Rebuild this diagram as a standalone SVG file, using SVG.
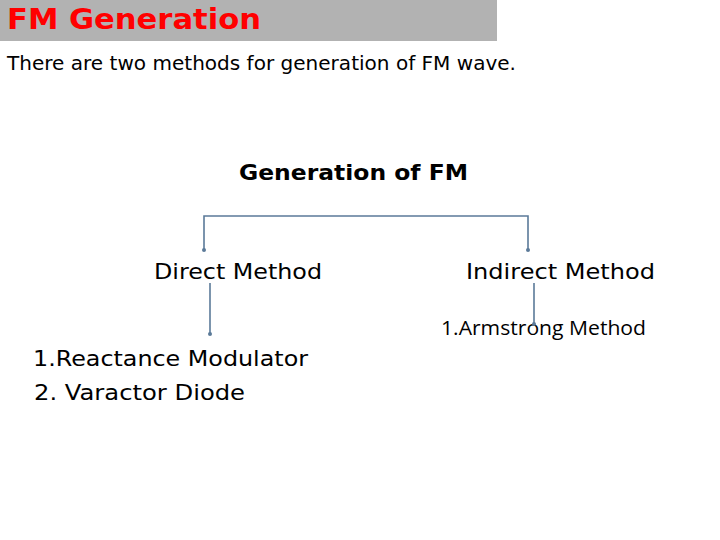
<svg xmlns="http://www.w3.org/2000/svg" width="720" height="540" viewBox="0 0 720 540">
<style>
.v{font-family:"DejaVu Sans","Verdana",sans-serif;fill:#000}
.c{font-family:"Open Sans","Noto Sans","Liberation Sans",sans-serif;fill:#000}
.ln{stroke:#5b7a99;stroke-width:1.6;fill:none}
</style>
<defs>
<marker id="dot" viewBox="0 0 6 6" refX="3" refY="3" markerWidth="4" markerHeight="4" markerUnits="userSpaceOnUse" orient="auto">
<circle cx="3" cy="3" r="3" fill="#5b7a99"/>
</marker>
</defs>
<rect width="720" height="540" fill="#fff"/>
<g id="header">
<rect x="0" y="0" width="497" height="41" fill="#b2b2b2"/>
<text x="7" y="29" font-family="'DejaVu Sans','Liberation Sans',sans-serif" font-weight="900" font-size="28" fill="#ff0000" textLength="254" lengthAdjust="spacingAndGlyphs">FM Generation</text>
</g>
<text class="v" x="7" y="70" font-size="19" textLength="509" lengthAdjust="spacingAndGlyphs">There are two methods for generation of FM wave.</text>
<g id="root"><text class="v" x="239" y="180" font-size="21" font-weight="bold" textLength="229" lengthAdjust="spacingAndGlyphs">Generation of FM</text></g>
<g id="direct"><text class="v" x="154" y="279" font-size="21" textLength="168" lengthAdjust="spacingAndGlyphs">Direct Method</text></g>
<g id="indirect"><text class="v" x="466" y="279" font-size="21" textLength="189" lengthAdjust="spacingAndGlyphs">Indirect Method</text></g>
<g id="directList">
<text class="v" x="33" y="366" font-size="21" textLength="275" lengthAdjust="spacingAndGlyphs">1.Reactance Modulator</text>
<text class="v" x="34" y="400" font-size="21" textLength="211" lengthAdjust="spacingAndGlyphs">2. Varactor Diode</text>
</g>
<g id="indirectList"><text class="c" x="441" y="335" font-size="20.5" textLength="205" lengthAdjust="spacingAndGlyphs">1.Armstrong Method</text></g>
<g id="connectors">
<path class="ln" d="M204,250 V216 H528 V250" marker-start="url(#dot)" marker-end="url(#dot)"/>
<path class="ln" d="M210,283 V334" marker-end="url(#dot)"/>
<path class="ln" d="M534,283 V324" marker-end="url(#dot)"/>
</g>
</svg>
